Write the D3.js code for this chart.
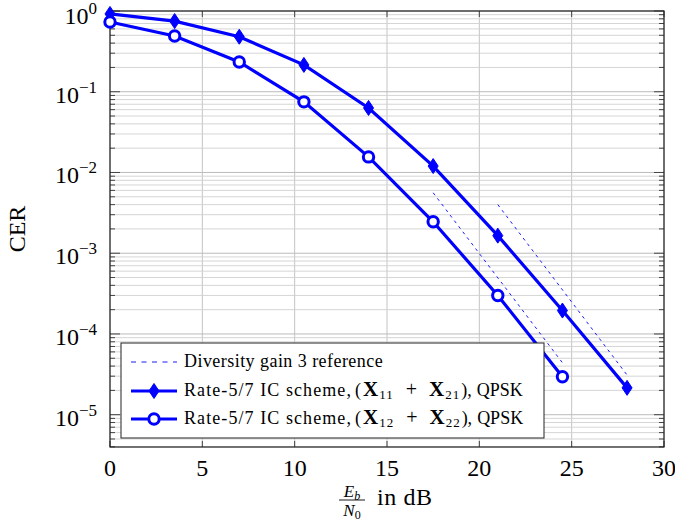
<!DOCTYPE html>
<html>
<head>
<meta charset="utf-8">
<script src="https://cdn.jsdelivr.net/npm/d3@7"></script>
<style>
  body { margin: 0; background: #fff; }
  text { font-family: "Liberation Serif", "DejaVu Serif", serif; fill: #000; }
</style>
</head>
<body>
<div id="chart"></div>
<script>
// snr points (dB)
const snrA = [0, 3.5, 7, 10.5, 14, 17.5, 21, 24.5, 28];
const cerA = [0.92, 0.75, 0.48, 0.215, 0.063, 0.012, 0.00165, 0.000195, 0.0000215];
const snrB = [0, 3.5, 7, 10.5, 14, 17.5, 21, 24.5];
const cerB = [0.73, 0.49, 0.234, 0.075, 0.0156, 0.00245, 0.0003, 0.0000295];
// diversity gain 3 reference segments
const refLow = [[17.5, 0.0056], [24.5, 0.000044]];
const refHigh = [[21, 0.004], [28, 0.000031]];
const xTicks = [0, 5, 10, 15, 20, 25, 30];
const yExps = [0, -1, -2, -3, -4, -5];

const width = 675, height = 531;
const pL = 110, pR = 664, pT = 11, pB = 447;
const blue = "#0000ff";

const svg = d3.select("#chart").append("svg")
  .attr("width", width).attr("height", height);

const x = d3.scaleLinear().domain([0, 30]).range([pL, pR]);
const y = d3.scaleLog().domain([Math.pow(10, -5.4), 1]).range([pB, pT]);

// grid
const grid = svg.append("g");
xTicks.forEach(t => {
  grid.append("line")
    .attr("x1", x(t)).attr("x2", x(t)).attr("y1", pT).attr("y2", pB)
    .attr("stroke", "#c4c4c4").attr("stroke-width", 1);
});
const minor = [];
for (let e = -6; e <= 0; e++) {
  for (let m = 1; m <= 9; m++) {
    const v = m * Math.pow(10, e);
    if (v >= y.domain()[0] && v <= 1) minor.push({v, major: m === 1});
  }
}
minor.forEach(d => {
  grid.append("line")
    .attr("x1", pL).attr("x2", pR).attr("y1", y(d.v)).attr("y2", y(d.v))
    .attr("stroke", d.major ? "#bcbcbc" : "#d0d0d0").attr("stroke-width", d.major ? 1 : 0.9);
});

// ticks (inward, both sides)
const ticks = svg.append("g").attr("stroke", "#444");
minor.forEach(d => {
  const len = d.major ? 10 : 5;
  ticks.append("line").attr("x1", pL).attr("x2", pL + len).attr("y1", y(d.v)).attr("y2", y(d.v));
  ticks.append("line").attr("x1", pR).attr("x2", pR - len).attr("y1", y(d.v)).attr("y2", y(d.v));
});
xTicks.forEach(t => {
  ticks.append("line").attr("x1", x(t)).attr("x2", x(t)).attr("y1", pB).attr("y2", pB - 6);
  ticks.append("line").attr("x1", x(t)).attr("x2", x(t)).attr("y1", pT).attr("y2", pT + 6);
});

// frame
svg.append("rect")
  .attr("x", pL).attr("y", pT).attr("width", pR - pL).attr("height", pB - pT)
  .attr("fill", "none").attr("stroke", "#222").attr("stroke-width", 1.2);

// tick labels
svg.append("g").selectAll("text").data(xTicks).join("text")
  .attr("x", d => x(d)).attr("y", 476)
  .attr("text-anchor", "middle").attr("font-size", 24)
  .text(d => d);

const yl = svg.append("g").selectAll("text").data(yExps).join("text")
  .attr("x", 97).attr("y", d => y(Math.pow(10, d)) + (d === 0 ? 13 : 11))
  .attr("text-anchor", "end").attr("font-size", 24);
yl.append("tspan").text("10");
yl.append("tspan").attr("dy", -10).attr("font-size", 17)
  .text(d => d === 0 ? "0" : "\u2212" + (-d));

// axis labels
svg.append("text")
  .attr("transform", "translate(25," + ((pT + pB) / 2) + ") rotate(-90)")
  .attr("text-anchor", "middle").attr("font-size", 24).text("CER");

const xl = svg.append("g").attr("transform", "translate(339,0)");
xl.append("text").attr("x", 13).attr("y", 497).attr("text-anchor", "middle")
  .attr("font-size", 17).attr("font-style", "italic")
  .html('E<tspan dy="3" font-size="12">b</tspan>');
xl.append("line").attr("x1", 0).attr("x2", 26).attr("y1", 500).attr("y2", 500)
  .attr("stroke", "#000").attr("stroke-width", 0.9);
xl.append("text").attr("x", 13).attr("y", 516).attr("text-anchor", "middle")
  .attr("font-size", 17).attr("font-style", "italic")
  .html('N<tspan dy="3" font-size="12" font-style="normal">0</tspan>');
xl.append("text").attr("x", 38).attr("y", 505).attr("font-size", 24)
  .attr("letter-spacing", 0.6).text("in dB");

// reference lines
const line = d3.line().x(d => x(d[0])).y(d => y(d[1]));
[refLow, refHigh].forEach(r => {
  svg.append("path").attr("d", line(r))
    .attr("fill", "none").attr("stroke", blue).attr("stroke-width", 0.9)
    .attr("stroke-dasharray", "3,4");
});

// series
const serA = snrA.map((s, i) => [s, cerA[i]]);
const serB = snrB.map((s, i) => [s, cerB[i]]);
[serA, serB].forEach(s => {
  svg.append("path").attr("d", line(s))
    .attr("fill", "none").attr("stroke", blue).attr("stroke-width", 3.2);
});

const diamond = "M0,-7.5 L5,0 L0,7.5 L-5,0 Z";
svg.append("g").selectAll("path").data(serA).join("path")
  .attr("d", diamond)
  .attr("transform", d => `translate(${x(d[0])},${y(d[1])})`)
  .attr("fill", blue).attr("stroke", blue).attr("stroke-width", 1);

svg.append("g").selectAll("circle").data(serB).join("circle")
  .attr("cx", d => x(d[0])).attr("cy", d => y(d[1])).attr("r", 5.2)
  .attr("fill", "#fff").attr("stroke", blue).attr("stroke-width", 3);

// legend
const lg = svg.append("g");
lg.append("rect").attr("x", 121).attr("y", 343).attr("width", 423).attr("height", 95)
  .attr("fill", "#fff").attr("stroke", "#222").attr("stroke-width", 1);
lg.append("line").attr("x1", 131).attr("x2", 177).attr("y1", 362).attr("y2", 362)
  .attr("stroke", blue).attr("stroke-width", 0.9).attr("stroke-dasharray", "5,5.5");
lg.append("line").attr("x1", 131).attr("x2", 177).attr("y1", 391).attr("y2", 391)
  .attr("stroke", blue).attr("stroke-width", 3.2);
lg.append("path").attr("d", diamond).attr("transform", "translate(154,391)")
  .attr("fill", blue).attr("stroke", blue);
lg.append("line").attr("x1", 131).attr("x2", 177).attr("y1", 419).attr("y2", 419)
  .attr("stroke", blue).attr("stroke-width", 3.2);
lg.append("circle").attr("cx", 154).attr("cy", 419).attr("r", 5.2)
  .attr("fill", "#fff").attr("stroke", blue).attr("stroke-width", 3);

// spread letters so a label spans the width it has in the figure
const fit = (t, target) => {
  const node = t.node();
  const w = node.getBBox().width;
  const n = node.textContent.length;
  if (target > w) t.attr("letter-spacing", ((target - w) / n).toFixed(2));
};

const legendText = (yy, a, b) => {
  const g = lg.append("g").attr("font-size", 18);
  const t = g.append("text").attr("x", 184).attr("y", yy).text("Rate-5/7 IC scheme,");
  fit(t, 168);
  const m = g.append("text").attr("x", 355).attr("y", yy);
  m.append("tspan").text("(");
  m.append("tspan").attr("dx", 2).attr("font-weight", "bold").attr("font-size", 21).text("X");
  m.append("tspan").attr("dx", 1).attr("dy", 3).attr("font-size", 13).attr("letter-spacing", 1).text(a);
  m.append("tspan").attr("dx", 12).attr("dy", -3).attr("font-size", 20).text("+");
  m.append("tspan").attr("dx", 12).attr("font-weight", "bold").attr("font-size", 21).text("X");
  m.append("tspan").attr("dx", 1).attr("dy", 3).attr("font-size", 13).attr("letter-spacing", 1).text(b);
  m.append("tspan").attr("dx", 1).attr("dy", -3).text("),");
  const bb = m.node().getBBox();
  const q = g.append("text").attr("x", bb.x + bb.width + 5).attr("y", yy).text("QPSK");
  fit(q, 45);
};
const t0 = lg.append("text").attr("x", 184).attr("y", 367).attr("font-size", 18)
  .text("Diversity gain 3 reference");
fit(t0, 199);
legendText(396, "11", "21");
legendText(424, "12", "22");
</script>
</body>
</html>
